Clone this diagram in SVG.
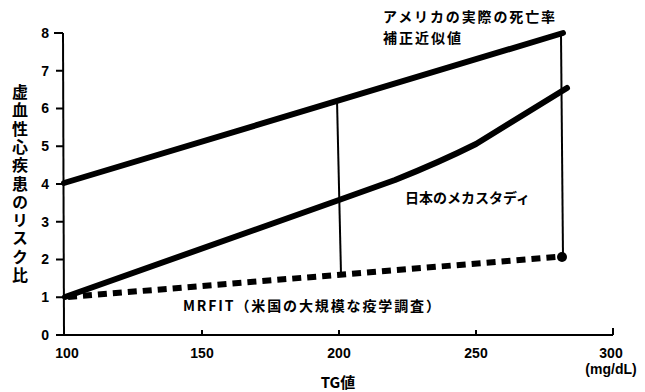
<svg xmlns="http://www.w3.org/2000/svg" width="645" height="392" viewBox="0 0 645 392">
<style>
text{font-family:"Noto Sans CJK JP","Noto Sans",sans-serif;font-weight:bold;fill:#000}
.tick{font-family:"Liberation Sans",Arial,sans-serif;font-size:14px;font-weight:bold}
.ax{stroke:#000;stroke-width:2;fill:none}
.thick{stroke:#000;stroke-width:6;fill:none;stroke-linecap:round;stroke-linejoin:round}
.thin{stroke:#000;stroke-width:2;fill:none}
.dash{stroke:#000;stroke-width:6;fill:none;stroke-dasharray:9 6}
.lbl{font-size:14px}
</style>
<rect width="645" height="392" fill="#fff"/>
<g id="axes">
<line class="ax" x1="63" y1="33" x2="64" y2="335"/>
<line class="ax" x1="64" y1="335" x2="613" y2="335"/>
<path class="ax" d="M54 33H63M56 70.75H63M56 108.5H63M56 146.25H63M56 184H63M56 221.75H63M56 259.5H63M56 297.25H63M56 335H64"/>
<path class="ax" d="M202 335V330M339 335V330M476 335V330M613 335V328"/>
<g class="tick">
<text class="tick" x="49" y="38" text-anchor="end">8</text>
<text class="tick" x="49" y="76" text-anchor="end">7</text>
<text class="tick" x="49" y="113" text-anchor="end">6</text>
<text class="tick" x="49" y="151" text-anchor="end">5</text>
<text class="tick" x="49" y="189" text-anchor="end">4</text>
<text class="tick" x="49" y="227" text-anchor="end">3</text>
<text class="tick" x="49" y="264" text-anchor="end">2</text>
<text class="tick" x="49" y="302" text-anchor="end">1</text>
<text class="tick" x="49" y="340" text-anchor="end">0</text>
<text class="tick" x="67" y="358" text-anchor="middle">100</text>
<text class="tick" x="202" y="358" text-anchor="middle">150</text>
<text class="tick" x="339" y="358" text-anchor="middle">200</text>
<text class="tick" x="476" y="358" text-anchor="middle">250</text>
<text class="tick" x="611" y="358" text-anchor="middle">300</text>
</g>
<text class="tick" x="611" y="374" text-anchor="middle" font-size="13">(mg/dL)</text>
<text x="338" y="388" text-anchor="middle" font-size="15">TG値</text>
<text x="20" y="84" font-size="16" style="writing-mode:vertical-rl;letter-spacing:2.3px">虚血性心疾患のリスク比</text>
</g>
<g id="connectors">
<line class="thin" x1="337" y1="100" x2="341" y2="274"/>
<line class="thin" x1="561" y1="35" x2="563" y2="257"/>
</g>
<g id="usa-line">
<line class="thick" x1="64" y1="183" x2="563" y2="33"/>
<text class="lbl" x="383" y="22" textLength="172">アメリカの実際の死亡率</text>
<text class="lbl" x="383" y="43" textLength="78">補正近似値</text>
</g>
<g id="japan-line">
<path class="thick" d="M65 297 L339 200 L395 180 Q440 162 476 144 L567 88"/>
<text class="lbl" x="405" y="203" textLength="125">日本のメカスタディ</text>
</g>
<g id="mrfit-line">
<line class="dash" x1="68" y1="297" x2="556" y2="257"/>
<circle cx="562" cy="257" r="5" fill="#000"/>
<text class="lbl" x="183" y="311" textLength="257">MRFIT（米国の大規模な疫学調査）</text>
</g>
</svg>
